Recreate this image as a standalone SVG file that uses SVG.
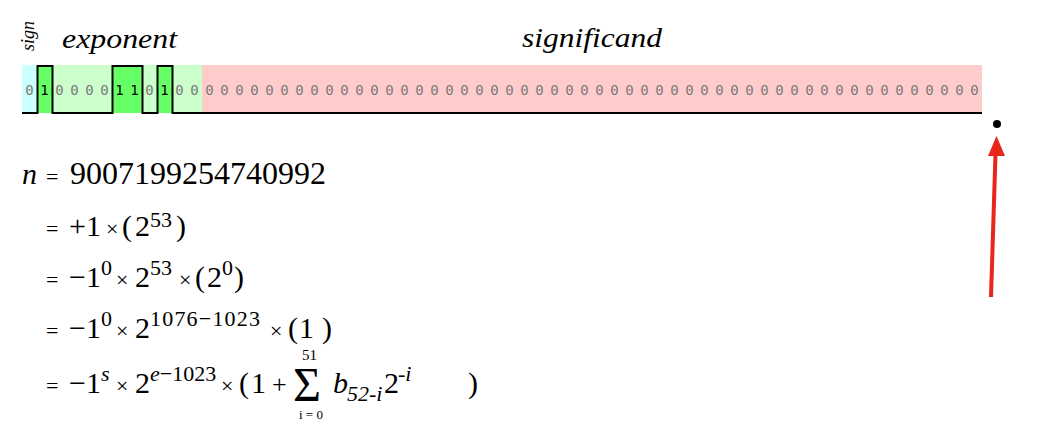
<svg xmlns="http://www.w3.org/2000/svg" width="1062" height="438" viewBox="0 0 1062 438">
<style>
.hdr{font-style:italic;fill:#000}
.b{font-size:14px;fill:#7a7a7a;text-anchor:middle}
.one{fill:#000}
.m{font-size:30px;fill:#000}
.op{font-size:22px}
.sup{font-size:22px}
.it{font-style:italic}
</style>
<rect width="1062" height="438" fill="#fff"/>
<g id="header" font-family="'Liberation Serif','Times New Roman',serif">
<text class="hdr" font-size="18" transform="translate(34,51) rotate(-90)">sign</text>
<text class="hdr" x="62" y="48" font-size="28" textLength="115" lengthAdjust="spacingAndGlyphs">exponent</text>
<text class="hdr" x="522" y="47" font-size="28" textLength="140" lengthAdjust="spacingAndGlyphs">significand</text>
</g>
<g id="bits" font-family="'DejaVu Sans Mono',monospace">
<rect x="22" y="65" width="15" height="48" fill="#ccffff"/>
<rect x="37" y="65" width="165" height="48" fill="#ccffcc"/>
<rect x="37" y="65" width="15" height="48" fill="#66ff66"/>
<rect x="112" y="65" width="30" height="48" fill="#66ff66"/>
<rect x="157" y="65" width="15" height="48" fill="#66ff66"/>
<rect x="202" y="65" width="780" height="48" fill="#ffcccc"/>
<path d="M22,113 H37.5 V66 H52.5 V113 H112.5 V66 H142.5 V113 H157.5 V66 H172.5 V113 H982" fill="none" stroke="#000" stroke-width="2"/>
<text class="b" x="29.5" y="95">0</text>
<text class="b one" x="44.5" y="95">1</text>
<text class="b" x="59.5" y="95">0</text>
<text class="b" x="74.5" y="95">0</text>
<text class="b" x="89.5" y="95">0</text>
<text class="b" x="104.5" y="95">0</text>
<text class="b one" x="119.5" y="95">1</text>
<text class="b one" x="134.5" y="95">1</text>
<text class="b" x="149.5" y="95">0</text>
<text class="b one" x="164.5" y="95">1</text>
<text class="b" x="179.5" y="95">0</text>
<text class="b" x="194.5" y="95">0</text>
<text class="b" x="209.5" y="95">0</text>
<text class="b" x="224.5" y="95">0</text>
<text class="b" x="239.5" y="95">0</text>
<text class="b" x="254.5" y="95">0</text>
<text class="b" x="269.5" y="95">0</text>
<text class="b" x="284.5" y="95">0</text>
<text class="b" x="299.5" y="95">0</text>
<text class="b" x="314.5" y="95">0</text>
<text class="b" x="329.5" y="95">0</text>
<text class="b" x="344.5" y="95">0</text>
<text class="b" x="359.5" y="95">0</text>
<text class="b" x="374.5" y="95">0</text>
<text class="b" x="389.5" y="95">0</text>
<text class="b" x="404.5" y="95">0</text>
<text class="b" x="419.5" y="95">0</text>
<text class="b" x="434.5" y="95">0</text>
<text class="b" x="449.5" y="95">0</text>
<text class="b" x="464.5" y="95">0</text>
<text class="b" x="479.5" y="95">0</text>
<text class="b" x="494.5" y="95">0</text>
<text class="b" x="509.5" y="95">0</text>
<text class="b" x="524.5" y="95">0</text>
<text class="b" x="539.5" y="95">0</text>
<text class="b" x="554.5" y="95">0</text>
<text class="b" x="569.5" y="95">0</text>
<text class="b" x="584.5" y="95">0</text>
<text class="b" x="599.5" y="95">0</text>
<text class="b" x="614.5" y="95">0</text>
<text class="b" x="629.5" y="95">0</text>
<text class="b" x="644.5" y="95">0</text>
<text class="b" x="659.5" y="95">0</text>
<text class="b" x="674.5" y="95">0</text>
<text class="b" x="689.5" y="95">0</text>
<text class="b" x="704.5" y="95">0</text>
<text class="b" x="719.5" y="95">0</text>
<text class="b" x="734.5" y="95">0</text>
<text class="b" x="749.5" y="95">0</text>
<text class="b" x="764.5" y="95">0</text>
<text class="b" x="779.5" y="95">0</text>
<text class="b" x="794.5" y="95">0</text>
<text class="b" x="809.5" y="95">0</text>
<text class="b" x="824.5" y="95">0</text>
<text class="b" x="839.5" y="95">0</text>
<text class="b" x="854.5" y="95">0</text>
<text class="b" x="869.5" y="95">0</text>
<text class="b" x="884.5" y="95">0</text>
<text class="b" x="899.5" y="95">0</text>
<text class="b" x="914.5" y="95">0</text>
<text class="b" x="929.5" y="95">0</text>
<text class="b" x="944.5" y="95">0</text>
<text class="b" x="959.5" y="95">0</text>
<text class="b" x="974.5" y="95">0</text>
</g>
<g id="marker-dot">
<circle cx="997" cy="124" r="4" fill="#000"/>
</g>
<g id="connectors">
<line x1="991" y1="297" x2="995.5" y2="154" stroke="#e8261c" stroke-width="4"/>
<polygon points="996.5,136 988,156 1005,156" fill="#e8261c"/>
</g>
<g id="formula" font-family="'Liberation Serif','Times New Roman',serif">
<text class="m" y="184"><tspan x="22" class="it">n</tspan><tspan x="46" class="op">=</tspan><tspan x="70" font-size="32">9007199254740992</tspan></text>
<text class="m" y="236"><tspan x="46" class="op">=</tspan><tspan x="69">+1</tspan><tspan x="106" class="op">×</tspan><tspan x="122">(</tspan><tspan x="135">2</tspan><tspan x="150" dy="-9" class="sup">53</tspan><tspan x="176" dy="9">)</tspan></text>
<text class="m" y="287"><tspan x="46" class="op">=</tspan><tspan x="69">−1</tspan><tspan x="101" dy="-12" class="sup">0</tspan><tspan x="116" dy="12" class="op">×</tspan><tspan x="135">2</tspan><tspan x="150" dy="-12" class="sup">53</tspan><tspan x="179" dy="12" class="op">×</tspan><tspan x="195">(</tspan><tspan x="207">2</tspan><tspan x="222" dy="-12" class="sup">0</tspan><tspan x="234" dy="12">)</tspan></text>
<text class="m" y="338"><tspan x="46" class="op">=</tspan><tspan x="69">−1</tspan><tspan x="101" dy="-12" class="sup">0</tspan><tspan x="116" dy="12" class="op">×</tspan><tspan x="135">2</tspan><tspan x="150" dy="-12" class="sup" textLength="110" lengthAdjust="spacing">1076−1023</tspan><tspan x="270" dy="12" class="op">×</tspan><tspan x="288">(</tspan><tspan x="299">1</tspan><tspan x="322">)</tspan></text>
<text class="m" y="393"><tspan x="46" class="op">=</tspan><tspan x="69">−1</tspan><tspan x="101" dy="-12" class="sup it">s</tspan><tspan x="116" dy="12" class="op">×</tspan><tspan x="135">2</tspan><tspan x="150" dy="-12" class="sup"><tspan class="it">e</tspan>−1023</tspan><tspan x="221" dy="12" class="op">×</tspan><tspan x="239">(</tspan><tspan x="251">1</tspan><tspan x="272" font-size="26">+</tspan><tspan x="333" class="it">b</tspan><tspan x="347" dy="8" class="sup it" font-size="20">52-i</tspan><tspan x="384" dy="-8">2</tspan><tspan x="398" dy="-12" class="sup it" font-size="18">-i</tspan><tspan x="468" dy="12">)</tspan></text>
<text font-size="48" x="293" y="401">Σ</text>
<text font-size="15" x="302" y="360">51</text>
<text font-size="13" x="299" y="419">i = 0</text>
</g>
</svg>
